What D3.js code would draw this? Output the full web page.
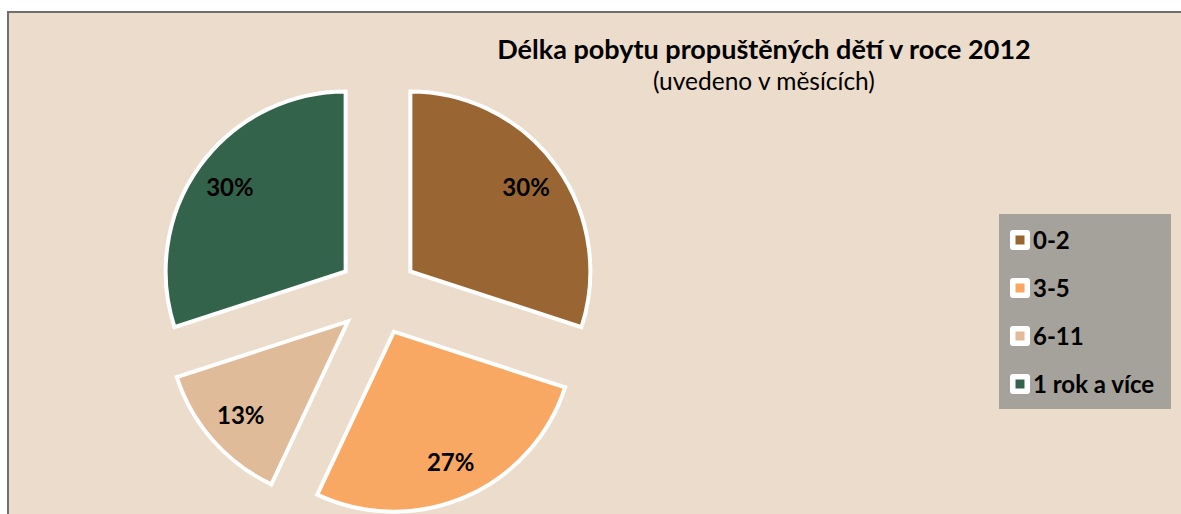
<!DOCTYPE html>
<html>
<head>
<meta charset="utf-8">
<style>
  body { margin: 0; background: #ffffff; font-family: Lato, "Open Sans", sans-serif; }
  svg { display: block; }
</style>
</head>
<body>
<div id="chart"></div>
<script src="https://cdn.jsdelivr.net/npm/d3@7"></script>
<script>
// data
var categories = ["0-2", "3-5", "6-11", "1 rok a více"];
var shares = [30, 27, 13, 30];
var colors = ["#996633", "#f8a862", "#dfbb99", "#33644b"];
var title = "Délka pobytu propuštěných dětí v roce 2012";
var subtitle = "(uvedeno v měsících)";

var width = 1181, height = 514;

var svg = d3.select("#chart").append("svg")
  .attr("width", width)
  .attr("height", height);

// chart area
svg.append("rect")
  .attr("x", 8).attr("y", 12)
  .attr("width", width).attr("height", height)
  .attr("fill", "#ecdccb")
  .attr("stroke", "#6f6f6f")
  .attr("stroke-width", 2);

svg.append("text")
  .attr("x", 764).attr("y", 59)
  .attr("text-anchor", "middle")
  .style("font-weight", "bold")
  .style("font-size", "27px")
  .text(title);

svg.append("text")
  .attr("x", 764).attr("y", 90)
  .attr("text-anchor", "middle")
  .style("font-size", "24.5px")
  .text(subtitle);

// pie
var cx = 378, cy = 295, radius = 180, explode = 40, labelR = 143;

var pie = d3.pie().sort(null).value(function(d) { return d; });
var arc = d3.arc().innerRadius(0).outerRadius(radius);

var arcs = pie(shares);

var g = svg.append("g").attr("transform", "translate(" + cx + "," + cy + ")");

function offset(d, r) {
  var a = (d.startAngle + d.endAngle) / 2;
  return [Math.sin(a) * r, -Math.cos(a) * r];
}

var slice = g.selectAll("g.slice")
  .data(arcs).enter()
  .append("g")
  .attr("class", "slice")
  .attr("transform", function(d) {
    var o = offset(d, explode);
    return "translate(" + o[0] + "," + o[1] + ")";
  });

slice.append("path")
  .attr("d", arc)
  .attr("fill", function(d, i) { return colors[i]; })
  .attr("stroke", "#ffffff")
  .attr("stroke-width", 4)
  .attr("stroke-linejoin", "miter");

slice.append("text")
  .attr("transform", function(d) {
    var o = offset(d, labelR);
    return "translate(" + o[0] + "," + o[1] + ")";
  })
  .attr("text-anchor", "middle")
  .attr("dy", "0.35em")
  .style("font-weight", "bold")
  .style("font-size", "24px")
  .text(function(d) { return d.data + "%"; });

// legend
var legend = svg.append("g").attr("transform", "translate(999,214)");
legend.append("rect")
  .attr("width", 172).attr("height", 195)
  .attr("fill", "#a5a19b");

var item = legend.selectAll("g.item")
  .data(categories).enter()
  .append("g")
  .attr("class", "item")
  .attr("transform", function(d, i) { return "translate(11," + (26 + i * 48) + ")"; });

item.append("rect")
  .attr("x", 0).attr("y", -10)
  .attr("width", 20).attr("height", 20)
  .attr("rx", 3)
  .attr("fill", "#ffffff");

item.append("rect")
  .attr("x", 5.5).attr("y", -4.5)
  .attr("width", 9).attr("height", 9)
  .attr("fill", function(d, i) { return colors[i]; });

item.append("text")
  .attr("x", 23)
  .attr("dy", "0.36em")
  .style("font-weight", "bold")
  .style("font-size", "24px")
  .text(function(d) { return d; });
</script>
</body>
</html>
